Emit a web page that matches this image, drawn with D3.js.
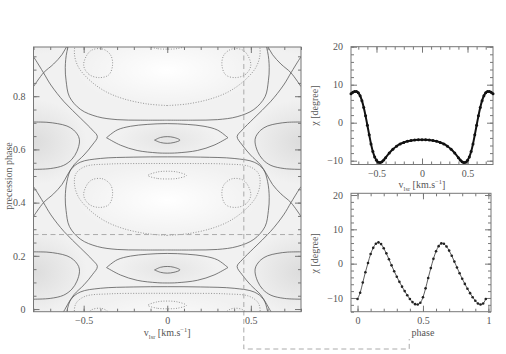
<!DOCTYPE html>
<html>
<head>
<meta charset="utf-8">
<script src="https://cdn.jsdelivr.net/npm/d3@7"></script>
<style>
  body { margin: 0; background: #fff; }
  text { font-family: "Liberation Serif", "DejaVu Serif", serif; fill: #555; }
</style>
</head>
<body>
<div id="chart"></div>
<script>
// ---- contour lines, lower cell, left half (v, phase) ----
// the pattern repeats every ~0.488 in phase and is mirrored in v
const cellShifts = [-0.488, 0, 0.488, 0.976];

const saddleArm = [[-0.8, 0.46], [-0.786, 0.447], [-0.74, 0.40], [-0.696, 0.354], [-0.617, 0.291],
  [-0.518, 0.229], [-0.448, 0.185], [-0.418, 0.16], [-0.448, 0.129], [-0.498, 0.091],
  [-0.558, 0.054], [-0.597, 0.016], [-0.63, -0.02], [-0.68, -0.055], [-0.74, -0.088], [-0.8, -0.14]];

const sideOval = [[-0.8, 0.215], [-0.72, 0.214], [-0.657, 0.209], [-0.6, 0.2], [-0.56, 0.185],
  [-0.53, 0.16], [-0.525, 0.14], [-0.54, 0.105], [-0.57, 0.075], [-0.62, 0.052], [-0.7, 0.04], [-0.8, 0.037]];

const lensTop = [[-0.363, 0.156], [-0.30, 0.185], [-0.22, 0.199], [-0.12, 0.206], [0, 0.209]];
const lensBottom = [[-0.363, 0.156], [-0.28, 0.128], [-0.18, 0.108], [-0.06, 0.099], [0, 0.098]];

const coreTop = [[-0.076, 0.147], [-0.04, 0.157], [0, 0.16]];
const coreBottom = [[-0.076, 0.147], [-0.04, 0.138], [0, 0.135]];

const ringLoop = [[0, 0.222], [-0.16, 0.222], [-0.30, 0.224], [-0.418, 0.235], [-0.518, 0.262],
  [-0.585, 0.31], [-0.605, 0.37], [-0.61, 0.42], [-0.6, 0.48], [-0.575, 0.525], [-0.52, 0.552],
  [-0.4, 0.566], [-0.2, 0.571], [0, 0.572]];

const dotOuter = [[0, 0.277], [-0.12, 0.283], [-0.26, 0.302], [-0.37, 0.33], [-0.46, 0.37],
  [-0.53, 0.42], [-0.555, 0.47], [-0.545, 0.51], [-0.49, 0.536], [-0.35, 0.545], [-0.15, 0.547], [0, 0.547]];

const dotLobe = [[-0.50, 0.43], [-0.47, 0.395], [-0.41, 0.382], [-0.35, 0.392], [-0.327, 0.43],
  [-0.34, 0.468], [-0.39, 0.49], [-0.46, 0.482]];

const dotCore = [[0, 0.489], [-0.06, 0.491], [-0.115, 0.502], [-0.06, 0.515], [0, 0.518],
  [0.06, 0.515], [0.115, 0.502], [0.06, 0.491]];

// cut positions
const cutPhase = 0.28;
const cutV = 0.458;
const linkPhase = 0.395;

// ---- chi along the phase cut (top right) ----
const vlsr = [-0.78, -0.76, -0.74, -0.72, -0.70, -0.68, -0.66, -0.64, -0.62, -0.60, -0.58, -0.56, -0.54,
  -0.52, -0.50, -0.48, -0.46, -0.44, -0.42, -0.40, -0.36, -0.32, -0.28, -0.24, -0.20, -0.16, -0.12,
  -0.08, -0.04, 0, 0.04, 0.08, 0.12, 0.16, 0.20, 0.24, 0.28, 0.32, 0.36, 0.40, 0.42, 0.44, 0.46,
  0.48, 0.50, 0.52, 0.54, 0.56, 0.58, 0.60, 0.62, 0.64, 0.66, 0.68, 0.70, 0.72, 0.74, 0.76, 0.78];
const chiV = [7.6, 8.0, 8.2, 8.2, 7.9, 7.1, 5.8, 4.0, 1.8, -0.7, -3.2, -5.6, -7.6,
  -9.0, -9.9, -10.4, -10.5, -10.3, -9.8, -9.2, -8.0, -7.0, -6.2, -5.6, -5.2, -4.9, -4.7,
  -4.55, -4.5, -4.5, -4.5, -4.55, -4.7, -4.9, -5.2, -5.6, -6.2, -7.0, -8.0, -9.2, -9.8, -10.3, -10.5,
  -10.4, -9.9, -9.0, -7.6, -5.6, -3.2, -0.7, 1.8, 4.0, 5.8, 7.1, 7.9, 8.2, 8.2, 8.0, 7.6];

// ---- chi along the velocity cut (bottom right) ----
const phase = [0, 0.02, 0.04, 0.06, 0.08, 0.10, 0.12, 0.14, 0.16, 0.18, 0.20, 0.22, 0.24, 0.26, 0.28,
  0.30, 0.32, 0.34, 0.36, 0.38, 0.40, 0.42, 0.44, 0.46, 0.48, 0.50, 0.52, 0.54, 0.56, 0.58, 0.60,
  0.62, 0.64, 0.66, 0.68, 0.70, 0.72, 0.74, 0.76, 0.78, 0.80, 0.82, 0.84, 0.86, 0.88, 0.90, 0.92,
  0.94, 0.96, 0.98];
const chiP = [-10.3, -8.5, -5.5, -2.5, 0.2, 2.8, 4.6, 5.8, 6.2, 5.7, 4.5, 3.0, 1.3, -0.5, -2.2,
  -3.8, -5.3, -6.7, -8.0, -9.2, -10.3, -11.2, -11.8, -11.9, -11.4, -9.8, -7.2, -4.2, -1.3, 1.4, 3.6,
  5.1, 5.9, 5.8, 5.0, 3.8, 2.3, 0.6, -1.1, -2.8, -4.4, -5.9, -7.3, -8.6, -9.8, -10.8, -11.6,
  -11.9, -11.6, -10.3];

// ---- layout ----
const W = 506, H = 354;
const svg = d3.select("#chart").append("svg").attr("width", W).attr("height", H);
const frameColor = "#777";

const xMap = d3.scaleLinear().domain([-0.8, 0.8]).range([33.5, 301]);
const yMap = d3.scaleLinear().domain([-0.01, 0.985]).range([311.7, 47]);

const xTop = d3.scaleLinear().domain([-0.78, 0.78]).range([351, 493]);
const yTop = d3.scaleLinear().domain([-11, 20]).range([164.5, 46.7]);

const xBot = d3.scaleLinear().domain([-0.05, 1.02]).range([351, 491]);
const yBot = d3.scaleLinear().domain([-14, 20.5]).range([311.7, 193.3]);

const range = (a, b, s) => d3.range(Math.round(a / s), Math.round(b / s) + 1).map(i => +(i * s).toFixed(4));

// inward ticks on all four sides, labels on left and bottom
function drawFrame(x, y, xMajor, xMinor, yMajor, yMinor, xFmt, yFmt) {
  const g = svg.append("g");
  const [x0, x1] = x.range(), [y0, y1] = y.range();
  const sets = [
    [d3.axisBottom(x), `translate(0,${y0})`, xMajor, xMinor, xFmt, 5],
    [d3.axisTop(x), `translate(0,${y1})`, xMajor, xMinor, null, 5],
    [d3.axisLeft(y), `translate(${x0},0)`, yMajor, yMinor, yFmt, 8],
    [d3.axisRight(y), `translate(${x1},0)`, yMajor, yMinor, null, 8]
  ];
  sets.forEach(([ax, tr, major, minor, fmt, pad]) => {
    const gMinor = g.append("g").attr("transform", tr)
      .call(ax.tickValues(minor).tickSize(-3).tickFormat(""));
    gMinor.select(".domain").remove();
    const gMajor = g.append("g").attr("transform", tr)
      .call(ax.tickValues(major).tickSize(-6).tickPadding(pad).tickFormat(fmt ? fmt : () => ""));
    gMajor.select(".domain").remove();
    g.selectAll("line").attr("stroke", frameColor);
    gMajor.selectAll("text").style("font-family", '"Liberation Serif", serif')
      .style("font-size", "10px").attr("fill", "#555");
  });
  g.append("rect").attr("x", x0).attr("y", y1).attr("width", x1 - x0).attr("height", y0 - y1)
    .attr("fill", "none").attr("stroke", frameColor).attr("stroke-width", 1);
  return g;
}

function vTitle(x, y) {
  const t = svg.append("text").attr("x", x).attr("y", y).attr("text-anchor", "middle")
    .style("font-size", "10px");
  t.append("tspan").text("v");
  t.append("tspan").attr("dy", 2.5).style("font-size", "6.5px").text("lsr");
  t.append("tspan").attr("dy", -2.5).text(" [km.s");
  t.append("tspan").attr("dy", -4).style("font-size", "6.5px").text("−1");
  t.append("tspan").attr("dy", 4).text("]");
}

// ---- contour map ----
const defs = svg.append("defs");
defs.append("clipPath").attr("id", "mapClip").append("rect")
  .attr("x", xMap(-0.8)).attr("y", yMap(0.985))
  .attr("width", xMap(0.8) - xMap(-0.8)).attr("height", yMap(-0.01) - yMap(0.985));

const dark = defs.append("radialGradient").attr("id", "darkShade");
dark.append("stop").attr("offset", "0%").attr("stop-color", "#dcdcdc").attr("stop-opacity", 1);
dark.append("stop").attr("offset", "100%").attr("stop-color", "#dcdcdc").attr("stop-opacity", 0);
const light = defs.append("radialGradient").attr("id", "lightShade");
light.append("stop").attr("offset", "0%").attr("stop-color", "#ffffff").attr("stop-opacity", 1);
light.append("stop").attr("offset", "100%").attr("stop-color", "#ffffff").attr("stop-opacity", 0);

const map = svg.append("g").attr("clip-path", "url(#mapClip)");
map.append("rect").attr("x", xMap(-0.8)).attr("y", yMap(0.985))
  .attr("width", xMap(0.8) - xMap(-0.8)).attr("height", yMap(-0.01) - yMap(0.985))
  .attr("fill", "#f1f1f1");

const pxPerV = xMap(1) - xMap(0), pxPerP = yMap(0) - yMap(1);
cellShifts.forEach(s => {
  [-0.8, 0.8].forEach(v => {
    map.append("ellipse").attr("cx", xMap(v)).attr("cy", yMap(0.14 + s))
      .attr("rx", 0.32 * pxPerV).attr("ry", 0.16 * pxPerP).attr("fill", "url(#darkShade)");
  });
  map.append("ellipse").attr("cx", xMap(0)).attr("cy", yMap(0.15 + s))
    .attr("rx", 0.3 * pxPerV).attr("ry", 0.07 * pxPerP).attr("fill", "url(#darkShade)").attr("opacity", 0.6);
  map.append("ellipse").attr("cx", xMap(0)).attr("cy", yMap(0.41 + s))
    .attr("rx", 0.55 * pxPerV).attr("ry", 0.14 * pxPerP).attr("fill", "url(#lightShade)");
});

const line = d3.line().x(d => xMap(d[0])).y(d => yMap(d[1])).curve(d3.curveCatmullRom.alpha(0.5));
const closed = d3.line().x(d => xMap(d[0])).y(d => yMap(d[1])).curve(d3.curveCatmullRomClosed.alpha(0.5));
const mirror = pts => pts.map(d => [-d[0], d[1]]);
const shift = (pts, s) => pts.map(d => [d[0], d[1] + s]);
const both = half => half.concat(mirror(half).reverse().slice(1));

function contour(pts, dotted, isClosed) {
  map.append("path").attr("d", (isClosed ? closed : line)(pts))
    .attr("fill", "none").attr("stroke", dotted ? "#8a8a8a" : "#5a5a5a")
    .attr("stroke-width", dotted ? 0.9 : 0.8)
    .attr("stroke-dasharray", dotted ? "1,1.6" : null);
}

cellShifts.forEach(s => {
  [saddleArm, mirror(saddleArm)].forEach(p => contour(shift(p, s), false, false));
  [sideOval, mirror(sideOval)].forEach(p => contour(shift(p, s), false, false));
  contour(shift(both(lensTop), s), false, false);
  contour(shift(both(lensBottom), s), false, false);
  contour(shift(both(coreTop).concat(mirror(coreBottom).slice(1, -1)).concat(coreBottom.slice().reverse()), s), false, true);
  contour(shift(both(ringLoop), s), false, false);
  contour(shift(both(dotOuter), s), true, false);
  [dotLobe, mirror(dotLobe)].forEach(p => contour(shift(p, s), true, true));
  contour(shift(dotCore, s), true, true);
});

// cut lines
const cut = svg.append("g").attr("stroke", "#aaa").attr("stroke-width", 1)
  .attr("stroke-dasharray", "5,3.5").attr("fill", "none");
cut.append("line").attr("x1", xMap(-0.8)).attr("x2", xMap(0.8))
  .attr("y1", yMap(cutPhase)).attr("y2", yMap(cutPhase));
cut.append("path").attr("d", d3.line()([
  [xMap(cutV), yMap(0.985)], [xMap(cutV), 349], [xBot(linkPhase), 349], [xBot(linkPhase), 339]
]));

drawFrame(xMap, yMap, [-0.5, 0, 0.5], range(-0.8, 0.8, 0.1),
  [0, 0.2, 0.4, 0.6, 0.8], range(0, 0.95, 0.05), d3.format(""), d3.format(""));

vTitle(xMap(0), 336);
svg.append("text").attr("transform", `translate(8,${yMap(0.5)}) rotate(-90)`)
  .attr("text-anchor", "middle").attr("dy", "0.35em").style("font-size", "10px").text("precession phase");

// ---- top right: chi vs vlsr ----
const topData = vlsr.map((v, i) => ({ x: v, y: chiV[i] }));
drawFrame(xTop, yTop, [-0.5, 0, 0.5], range(-0.7, 0.7, 0.1),
  [-10, 0, 10, 20], range(-10, 20, 2), d3.format(""), d3.format(""));
svg.append("path").datum(topData)
  .attr("d", d3.line().x(d => xTop(d.x)).y(d => yTop(d.y)).curve(d3.curveCatmullRom))
  .attr("fill", "none").attr("stroke", "#111").attr("stroke-width", 2);
svg.selectAll(".dotTop").data(topData).enter().append("circle")
  .attr("cx", d => xTop(d.x)).attr("cy", d => yTop(d.y)).attr("r", 1.5).attr("fill", "#111");

vTitle(xTop(0), 188);
svg.append("text").attr("transform", `translate(314,${yTop(4.5)}) rotate(-90)`)
  .attr("text-anchor", "middle").attr("dy", "0.35em").style("font-size", "10px").text("χ [degree]");

// ---- bottom right: chi vs phase ----
const botData = phase.map((p, i) => ({ x: p, y: chiP[i] }));
drawFrame(xBot, yBot, [0, 0.5, 1], range(0, 1, 0.1),
  [-10, 0, 10, 20], range(-14, 20, 2), d3.format(""), d3.format(""));
svg.append("path").datum(botData)
  .attr("d", d3.line().x(d => xBot(d.x)).y(d => yBot(d.y)).curve(d3.curveCatmullRom))
  .attr("fill", "none").attr("stroke", "#333").attr("stroke-width", 0.8);
svg.selectAll(".dotBot").data(botData).enter().append("circle")
  .attr("cx", d => xBot(d.x)).attr("cy", d => yBot(d.y)).attr("r", 1.3).attr("fill", "#222");
svg.append("text").attr("x", xBot(0.5)).attr("y", 336).attr("text-anchor", "middle")
  .style("font-size", "10px").text("phase");
svg.append("text").attr("transform", `translate(314,${yBot(3)}) rotate(-90)`)
  .attr("text-anchor", "middle").attr("dy", "0.35em").style("font-size", "10px").text("χ [degree]");
</script>
</body>
</html>
